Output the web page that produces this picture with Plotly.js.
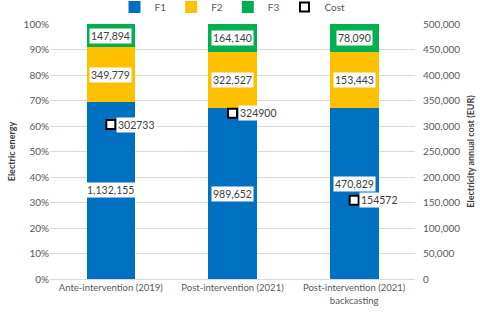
<!DOCTYPE html>
<html><head><meta charset="utf-8">
<script src="https://cdn.plot.ly/plotly-3.0.1.min.js"></script>
<style>html,body{margin:0;padding:0;background:#fff}#c{width:480px;height:318px}</style>
</head><body><div id="c"></div>
<script>
const categories = ["Ante-intervention (2019)", "Post-intervention (2021)", "Post-intervention (2021)<br>backcasting"];
const f1 = [1132155, 989652, 470829];
const f2 = [349779, 322527, 153443];
const f3 = [147894, 164140, 78090];
const cost = [302733, 324900, 154572];
const fmt = v => v.toLocaleString('en-US');

const font = {family: 'Lato, "Open Sans", sans-serif', size: 10, color: '#595959'};
const traces = [
  {type:'bar', name:'F1', x:categories, y:f1, marker:{color:'#0070C0'}, hoverinfo:'none'},
  {type:'bar', name:'F2', x:categories, y:f2, marker:{color:'#FFC000'}, hoverinfo:'none'},
  {type:'bar', name:'F3', x:categories, y:f3, marker:{color:'#00B050'}, hoverinfo:'none'},
  {type:'scatter', mode:'markers', name:'Cost', x:categories, y:cost, yaxis:'y2',
   marker:{symbol:'square', size:9, color:'#ffffff', line:{color:'#000000', width:2}}, hoverinfo:'none'}
];

const annotations = [];
const labelShift = [0, 0, 10];
categories.forEach((c, i) => {
  const tot = f1[i] + f2[i] + f3[i];
  const p1 = f1[i] / tot * 100, p2 = f2[i] / tot * 100, p3 = f3[i] / tot * 100;
  const segs = [[f1[i], p1 / 2, labelShift[i]], [f2[i], p1 + p2 / 2, 0], [f3[i], p1 + p2 + p3 / 2, 0]];
  segs.forEach(s => annotations.push({
    x: c, y: s[1], xref: 'x', yref: 'y', text: fmt(s[0]), showarrow: false, yshift: s[2],
    bgcolor: '#ffffff', borderpad: 1, font: {family: font.family, size: 10.5, color: '#404040'}
  }));
  annotations.push({
    x: c, y: cost[i], xref: 'x', yref: 'y2', text: String(cost[i]), showarrow: false,
    xanchor: 'left', xshift: 5, bgcolor: '#ffffff', borderpad: 1,
    font: {family: font.family, size: 10.5, color: '#404040'}
  });
});

const layout = {
  width: 480, height: 318,
  margin: {l: 50, r: 65, t: 24, b: 39, autoexpand: false},
  paper_bgcolor: '#ffffff', plot_bgcolor: '#ffffff',
  font: font,
  barmode: 'stack', barnorm: 'percent', bargap: 0.6,
  showlegend: true,
  legend: {orientation: 'h', x: 0.5, xanchor: 'center', y: 1.067, yanchor: 'middle',
           bgcolor: 'rgba(0,0,0,0)',
           font: {family: font.family, size: 10, color: '#595959'}, itemwidth: 30, traceorder: 'normal'},
  xaxis: {type: 'category', showgrid: false, showline: true, linecolor: '#d9d9d9', ticks: '',
          tickfont: {family: font.family, size: 9.5, color: '#595959'}},
  yaxis: {range: [0, 100], dtick: 10, ticksuffix: '%', gridcolor: '#d9d9d9', zeroline: false,
          tickfont: {family: font.family, size: 10, color: '#595959'},
          title: {text: '<b>Electric energy</b>', standoff: 6,
                  font: {family: font.family, size: 9, color: '#404040'}}},
  yaxis2: {overlaying: 'y', side: 'right', range: [0, 500000], dtick: 50000, tickformat: ',',
           showgrid: false, zeroline: false, ticklabelstandoff: 7,
           tickfont: {family: font.family, size: 10, color: '#595959'},
           title: {text: '<b>Electricity annual cost (EUR)</b>', standoff: 8,
                   font: {family: font.family, size: 9, color: '#404040'}}},
  annotations: annotations
};
Plotly.newPlot('c', traces, layout, {displayModeBar: false, staticPlot: true});
</script></body></html>
